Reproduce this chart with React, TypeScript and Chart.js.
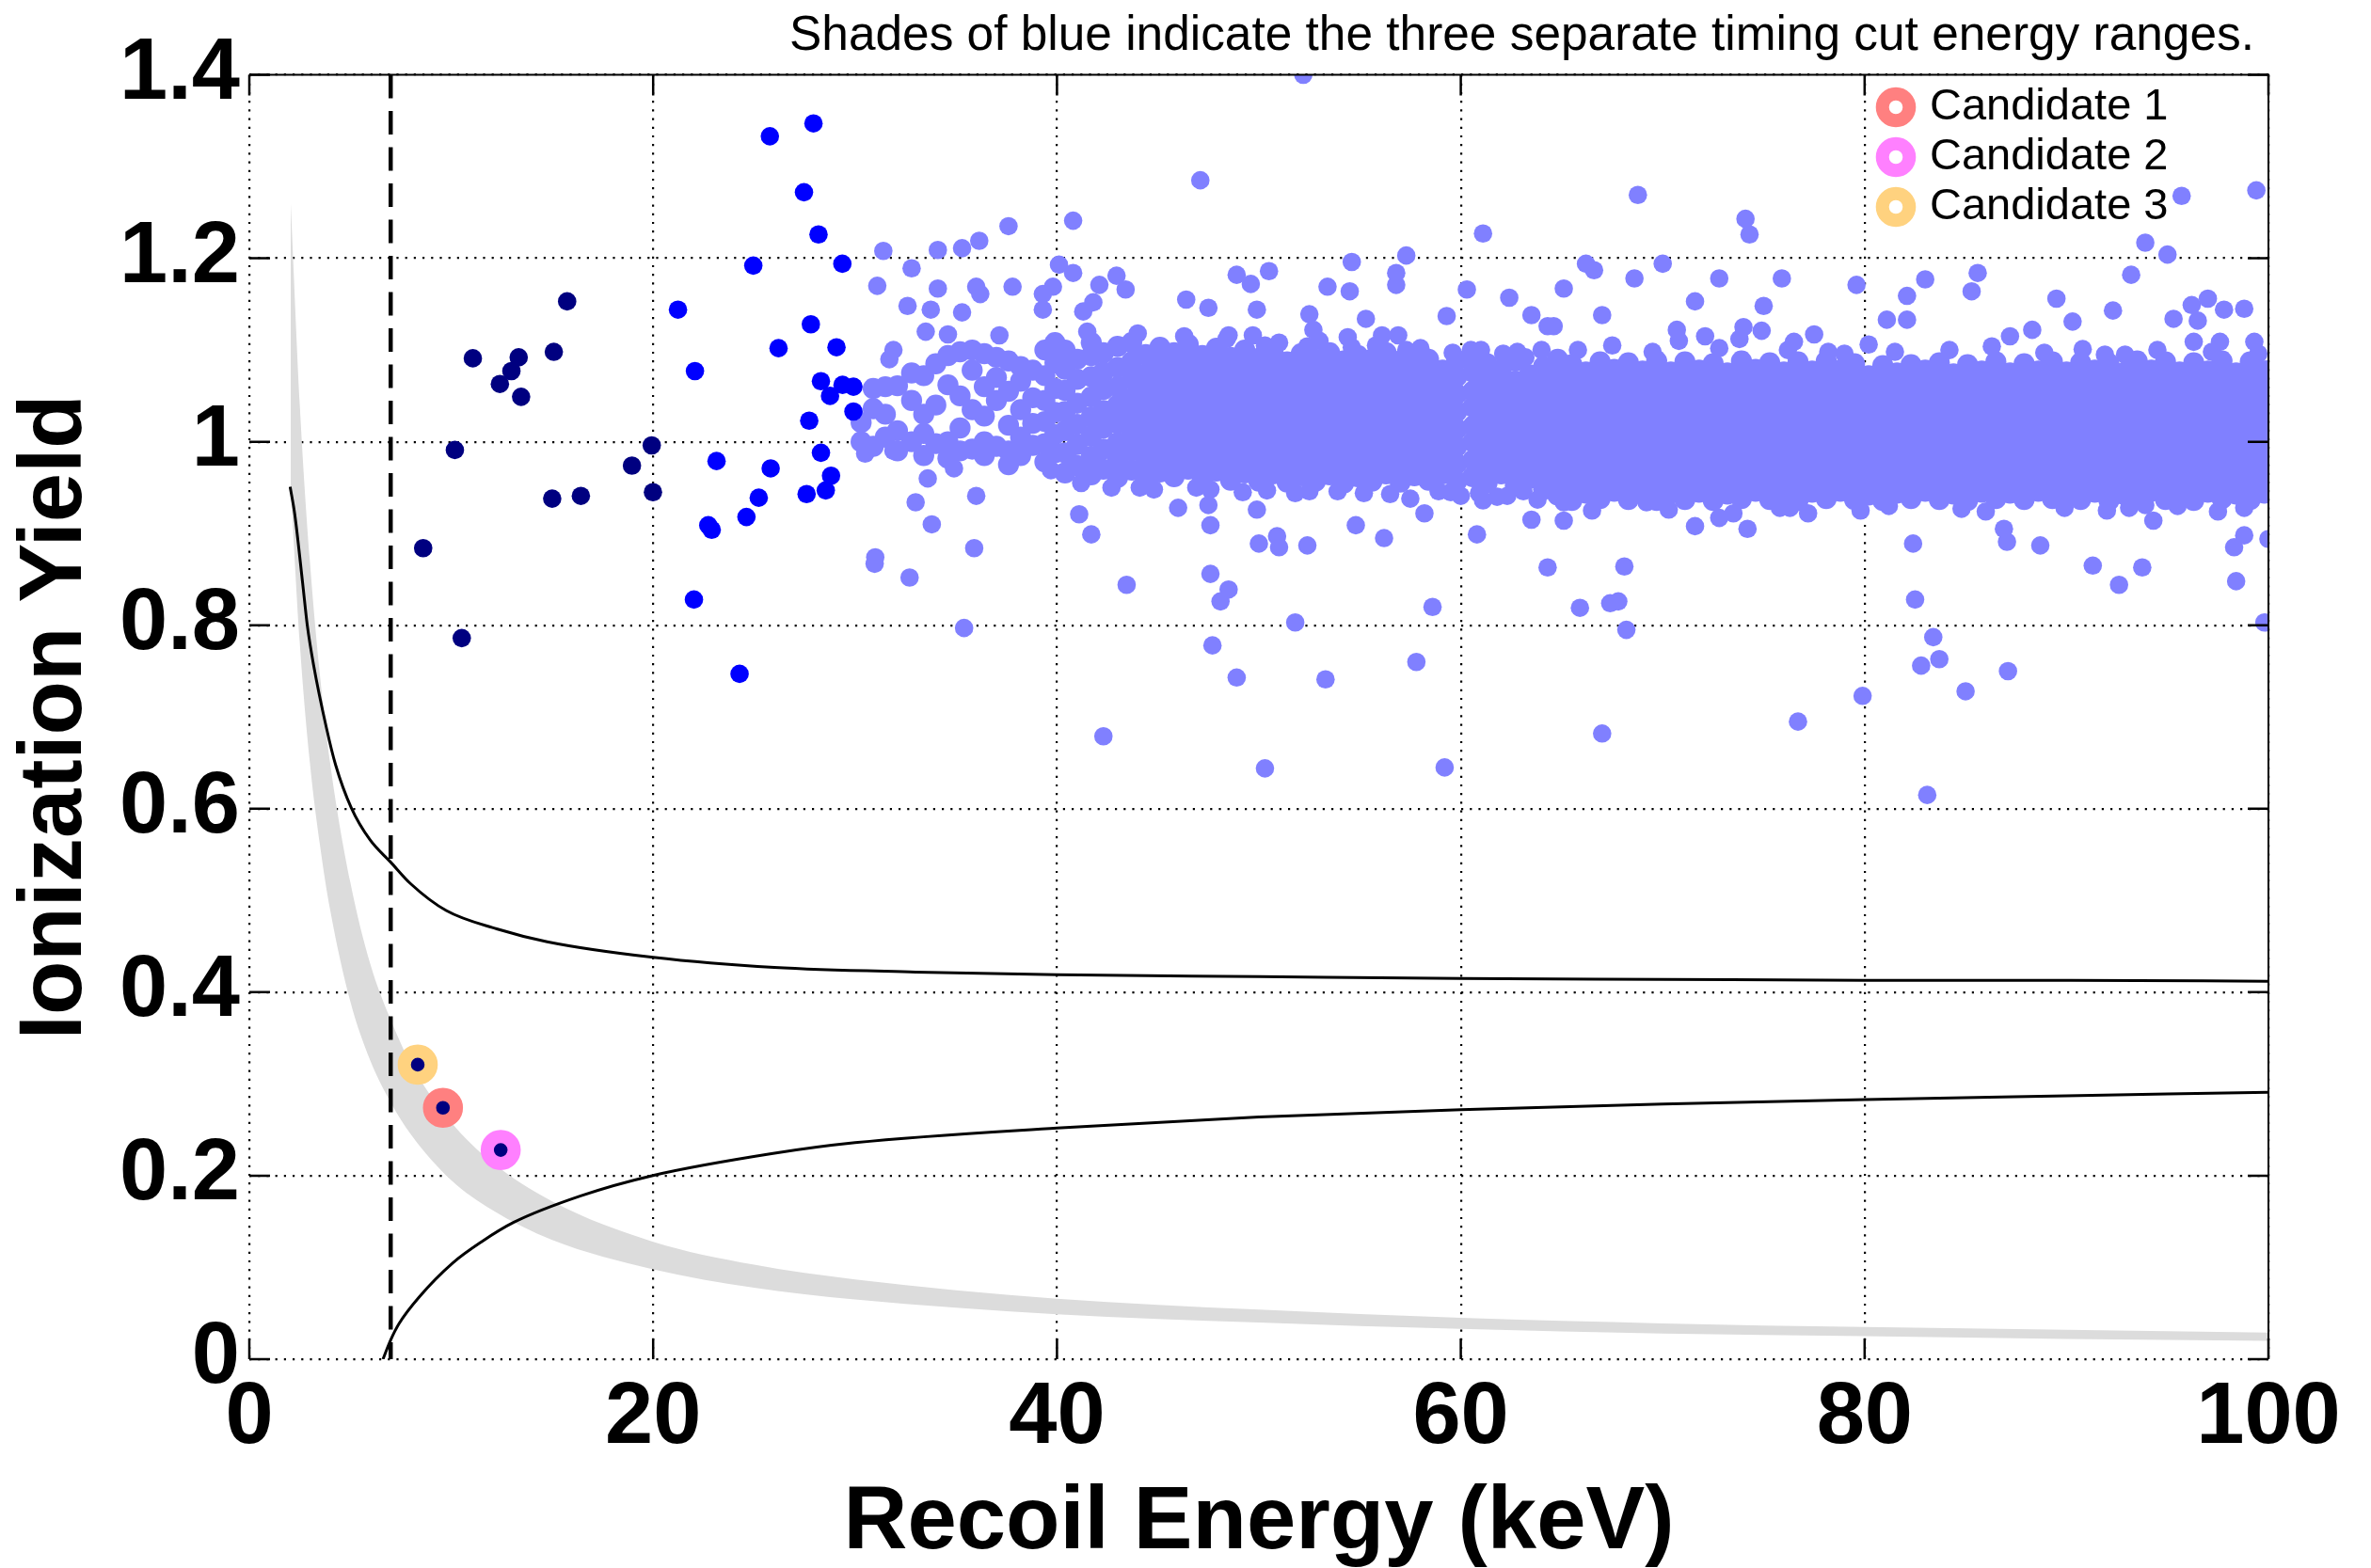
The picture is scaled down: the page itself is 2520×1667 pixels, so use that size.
import React, { useEffect, useRef } from 'react';
import { Chart, registerables } from 'chart.js';

Chart.register(...registerables);

const FONT = '"Liberation Sans", Arial, Helvetica, sans-serif';
const W = 2520;
const H = 1667;

const LIGHT = '#8080FF';
const BLUE = '#0000FF';
const NAVY = '#000080';
const GRAY = '#DCDCDC';

const NOTE = 'Shades of blue indicate the three separate timing cut energy ranges.';
const X_TITLE = 'Recoil Energy (keV)';
const Y_TITLE = 'Ionization Yield';

// Gray band (upper / lower edge)
const bandX = [2.05, 2.5, 3, 3.5, 4, 5, 6, 7, 8, 10, 12, 15, 20, 25, 30, 40, 50, 60, 70, 80, 90, 100];
const bandUpper = [1.26, 1.04, 0.87, 0.745, 0.65, 0.52, 0.43, 0.37, 0.322, 0.258, 0.215, 0.172, 0.128, 0.103, 0.087, 0.066, 0.054, 0.045, 0.039, 0.035, 0.032, 0.029];
const bandLower = [0.95, 0.78, 0.65, 0.56, 0.49, 0.39, 0.325, 0.28, 0.245, 0.195, 0.163, 0.13, 0.098, 0.078, 0.065, 0.049, 0.04, 0.033, 0.028, 0.025, 0.022, 0.02];

// Black acceptance curves
const upperCurveX = [2.02, 2.25, 2.64, 2.87, 3.18, 3.81, 4.27, 5.05, 5.98, 6.99, 8.0, 9.75, 12.25, 14.75, 20, 26, 33, 40, 50, 60, 70, 80, 90, 100];
const upperCurveY = [0.951, 0.921, 0.846, 0.8, 0.757, 0.689, 0.648, 0.601, 0.566, 0.542, 0.518, 0.489, 0.469, 0.455, 0.438, 0.427, 0.422, 0.419, 0.417, 0.415, 0.414, 0.413, 0.413, 0.412];
const lowerCurveX = [6.62, 7.0, 7.42, 8.42, 10.08, 11.5, 13.08, 16.41, 19.94, 25.86, 30, 40, 50, 60, 70, 80, 90, 100];
const lowerCurveY = [0, 0.021, 0.039, 0.068, 0.105, 0.128, 0.149, 0.178, 0.2, 0.224, 0.236, 0.252, 0.264, 0.272, 0.278, 0.283, 0.287, 0.291];

const thresholdX = 7.0;

// Navy events (lowest energy range)
const navyPts = [
  [15.74, 1.153], [11.07, 1.091], [13.34, 1.092], [12.98, 1.077], [12.41, 1.063], [13.46, 1.049],
  [15.08, 1.098], [10.18, 0.991], [19.93, 0.996], [18.95, 0.974], [19.99, 0.945], [15.0, 0.938],
  [16.42, 0.941], [8.61, 0.884], [10.52, 0.786],
  [8.34, 0.321], [9.59, 0.274], [12.45, 0.228],
];

// Blue events (middle energy range)
const bluePts = [
  [25.78, 1.333], [27.94, 1.347], [27.47, 1.272], [28.19, 1.226], [24.96, 1.192], [29.37, 1.194],
  [21.23, 1.144], [27.81, 1.128], [26.21, 1.102], [29.08, 1.103], [22.07, 1.077], [28.31, 1.066],
  [29.38, 1.062], [29.92, 1.06], [28.76, 1.05], [29.92, 1.033], [27.73, 1.023], [28.31, 0.988],
  [23.14, 0.979], [25.82, 0.971], [28.81, 0.963], [25.23, 0.939], [27.6, 0.943], [28.55, 0.947],
  [24.62, 0.918], [22.73, 0.909], [22.9, 0.904], [22.02, 0.828], [24.28, 0.747],
];

// Light events: scattered points above the main band
const lightUpper = [
  [47.1, 1.285], [40.8, 1.241], [37.6, 1.235], [36.15, 1.219], [35.3, 1.211], [34.1, 1.209], [31.4, 1.208],
  [32.8, 1.189], [31.1, 1.17], [34.1, 1.167], [36.0, 1.169], [36.2, 1.161], [37.8, 1.169], [32.6, 1.148],
  [33.75, 1.144], [35.3, 1.141], [33.5, 1.12], [34.6, 1.117], [37.15, 1.116], [31.9, 1.1], [31.7, 1.09],
  [40.1, 1.193], [40.8, 1.184], [39.3, 1.161], [39.8, 1.169], [39.3, 1.144], [41.3, 1.142], [41.8, 1.152],
  [42.1, 1.171], [42.95, 1.181], [43.4, 1.166], [46.4, 1.155], [47.5, 1.146], [48.9, 1.182], [49.6, 1.172],
  [50.5, 1.186], [49.9, 1.144], [54.6, 1.196], [57.3, 1.203], [56.8, 1.184], [56.8, 1.171], [53.4, 1.169],
  [54.5, 1.164], [55.3, 1.134], [61.1, 1.227], [60.3, 1.166], [62.4, 1.157], [63.5, 1.138], [59.3, 1.137],
  [52.5, 1.139], [52.7, 1.122], [48.5, 1.116], [49.7, 1.116], [56.1, 1.116], [56.9, 1.116], [54.4, 1.114],
  [64.3, 1.126], [52.2, 1.4],
  [68.77, 1.269], [74.1, 1.243], [74.3, 1.226], [66.2, 1.194], [66.6, 1.187], [65.1, 1.167], [68.6, 1.178],
  [70.0, 1.194], [72.8, 1.178], [75.9, 1.178], [71.6, 1.153], [67.0, 1.138], [75.0, 1.148], [79.6, 1.171],
  [81.1, 1.133], [82.1, 1.133], [82.1, 1.159], [83.0, 1.177], [85.6, 1.184], [85.3, 1.164], [89.5, 1.156],
  [90.3, 1.131], [92.3, 1.143], [93.2, 1.182], [93.9, 1.217], [95.0, 1.204], [95.7, 1.268], [99.4, 1.274],
  [95.3, 1.134], [96.2, 1.149], [97.0, 1.156], [97.8, 1.144], [98.8, 1.145], [96.3, 1.109], [97.6, 1.109],
  [99.3, 1.109], [96.5, 1.132], [70.7, 1.122], [70.8, 1.11], [72.1, 1.115], [73.8, 1.112], [74.0, 1.125],
  [74.9, 1.121], [76.5, 1.109], [77.5, 1.117], [78.2, 1.098], [80.2, 1.106], [88.3, 1.122], [87.2, 1.115],
  [91.9, 1.095], [92.9, 1.095], [100.0, 1.079], [64.6, 1.126],
  [41.5, 1.12], [44.0, 1.118], [46.3, 1.115], [48.4, 1.112], [51.0, 1.108], [53.0, 1.11], [55.8, 1.105],
  [58.0, 1.102], [60.5, 1.1], [62.8, 1.098], [64.0, 1.1], [65.8, 1.1], [67.5, 1.105], [69.5, 1.098],
  [72.8, 1.102], [76.2, 1.1], [79.0, 1.096], [81.5, 1.098], [84.2, 1.1], [86.3, 1.104], [88.9, 1.097],
  [90.8, 1.101], [94.5, 1.1], [97.2, 1.098], [99.5, 1.096],
  [59.6, 1.097], [61.0, 1.1], [62.1, 1.096], [63.2, 1.092], [57.3, 1.1], [54.6, 1.103], [52.4, 1.104], [50.3, 1.105],
];

// Light events: scattered points below the main band
const lightLower = [
  [30.5, 0.987], [31.9, 0.99], [34.9, 0.971], [33.6, 0.96], [33.0, 0.934], [36.0, 0.941], [33.8, 0.91],
  [31.0, 0.874], [30.97, 0.867], [35.9, 0.884], [32.7, 0.852], [35.4, 0.797], [39.7, 0.969], [40.7, 0.978],
  [41.7, 0.899], [41.1, 0.921], [43.45, 0.844], [42.3, 0.679], [46.0, 0.928], [47.5, 0.931], [47.6, 0.909],
  [47.6, 0.856], [48.5, 0.839], [48.1, 0.826], [47.7, 0.778], [48.9, 0.743], [50.3, 0.644], [50.0, 0.889],
  [50.9, 0.897], [51.0, 0.885], [49.9, 0.926], [52.4, 0.887], [51.8, 0.803], [53.3, 0.741], [54.8, 0.909],
  [56.2, 0.895], [57.8, 0.76], [58.6, 0.82], [59.2, 0.645], [58.2, 0.922], [60.8, 0.899], [61.1, 0.936],
  [60.0, 0.941], [63.5, 0.915], [64.3, 0.863], [57.5, 0.938],
  [65.1, 0.934], [65.1, 0.914], [69.2, 0.934], [71.6, 0.908], [72.8, 0.917], [74.2, 0.905], [76.3, 0.928],
  [77.2, 0.922], [68.1, 0.864], [65.9, 0.819], [67.4, 0.824], [67.8, 0.826], [68.2, 0.795], [67.0, 0.682],
  [76.7, 0.695], [79.9, 0.723], [82.4, 0.889], [82.5, 0.828], [83.4, 0.787], [82.8, 0.756], [83.7, 0.763],
  [85.0, 0.728], [87.1, 0.75], [83.1, 0.615], [86.9, 0.905], [87.05, 0.891], [88.7, 0.887], [91.3, 0.865],
  [92.6, 0.844], [93.75, 0.863], [93.1, 0.928], [93.9, 0.931], [94.3, 0.914], [98.4, 0.848], [98.3, 0.885],
  [98.8, 0.898], [98.8, 0.928], [98.3, 0.947], [99.8, 0.803], [100.0, 0.894], [94.7, 0.945], [89.4, 0.94],
  [79.4, 0.941],
  [41.2, 0.955], [42.7, 0.95], [44.8, 0.948], [46.9, 0.95], [49.2, 0.945], [51.8, 0.944], [53.9, 0.946],
  [56.5, 0.943], [59.5, 0.945], [61.8, 0.94], [63.8, 0.937], [66.5, 0.925], [70.3, 0.926], [73.5, 0.922],
  [75.8, 0.928], [79.8, 0.925], [81.2, 0.93], [84.8, 0.927], [86.0, 0.924], [89.9, 0.928], [92.0, 0.925],
  [95.5, 0.93], [97.5, 0.924],
  [60.9, 0.944], [62.3, 0.941], [63.1, 0.946], [58.9, 0.946], [55.2, 0.944], [52.5, 0.946], [50.4, 0.947],
  [47.6, 0.948], [44.1, 0.95],
];

// Light events: the dense main band, columns [energy, yields...]
const band30 = [
  [30.3, 1.021, 1.0], [30.9, 1.036, 1.058, 0.995], [31.5, 1.06, 1.03, 1.005], [32.1, 1.061, 1.012, 0.99],
  [32.8, 1.045, 1.0, 1.075], [33.4, 1.072, 1.009, 0.985, 1.03], [34.0, 1.085, 1.04, 0.998],
  [34.6, 1.094, 1.062, 1.0, 0.982], [35.2, 1.098, 1.05, 1.015, 0.99], [35.8, 1.1, 1.078, 1.035, 0.992],
  [36.4, 1.096, 1.06, 1.028, 1.0, 0.985], [37.0, 1.092, 1.07, 1.045, 0.995], [37.6, 1.088, 1.055, 1.018, 0.99, 0.975],
  [38.2, 1.082, 1.066, 1.035, 1.005, 0.985], [38.8, 1.078, 1.048, 1.02, 0.996],
  [39.4, 1.1, 1.072, 1.045, 1.022, 0.998, 0.978], [39.9, 1.108, 1.086, 1.058, 1.032, 1.008, 0.988],
];
const band40 = [
  [40.4, 0.966, 0.988, 1.012, 1.033, 1.056, 1.079, 1.1],
  [41.0, 0.974, 0.997, 1.019, 1.042, 1.068, 1.09],
  [41.7, 0.964, 0.984, 1.006, 1.027, 1.049, 1.071, 1.094, 1.108],
  [42.3, 0.97, 0.992, 1.015, 1.034, 1.057, 1.076, 1.097],
  [43.0, 0.961, 0.98, 0.999, 1.02, 1.04, 1.06, 1.081, 1.104],
  [43.7, 0.969, 0.99, 1.009, 1.027, 1.047, 1.068, 1.087, 1.108],
  [44.4, 0.96, 0.978, 0.998, 1.016, 1.036, 1.055, 1.074, 1.095],
  [45.1, 0.967, 0.987, 1.005, 1.025, 1.044, 1.064, 1.083, 1.103],
  [45.8, 0.962, 0.98, 1.0, 1.018, 1.038, 1.057, 1.077, 1.097],
  [46.5, 0.97, 0.99, 1.01, 1.029, 1.047, 1.067, 1.087, 1.106],
  [47.2, 0.961, 0.979, 0.998, 1.017, 1.037, 1.056, 1.075, 1.094],
  [47.9, 0.968, 0.987, 1.006, 1.025, 1.045, 1.064, 1.083, 1.102],
  [48.6, 0.958, 0.977, 0.996, 1.015, 1.034, 1.053, 1.072, 1.092],
  [49.3, 0.966, 0.985, 1.004, 1.023, 1.043, 1.062, 1.081, 1.1],
];
const band50 = [
  [50.0, 0.957, 0.976, 0.995, 1.014, 1.033, 1.052, 1.071, 1.091],
  [50.7, 0.965, 0.984, 1.003, 1.022, 1.041, 1.06, 1.079, 1.098],
  [51.4, 0.956, 0.975, 0.993, 1.012, 1.031, 1.05, 1.068, 1.087],
  [52.1, 0.963, 0.982, 1.001, 1.02, 1.039, 1.058, 1.077, 1.096],
  [52.8, 0.957, 0.976, 0.995, 1.014, 1.034, 1.052, 1.071, 1.09],
  [53.5, 0.964, 0.983, 1.002, 1.021, 1.04, 1.059, 1.079, 1.097],
  [54.2, 0.955, 0.974, 0.993, 1.012, 1.031, 1.05, 1.069, 1.088],
  [54.9, 0.962, 0.981, 1.0, 1.019, 1.038, 1.057, 1.076, 1.094],
  [55.6, 0.957, 0.976, 0.995, 1.014, 1.033, 1.052, 1.071, 1.09],
  [56.3, 0.965, 0.984, 1.003, 1.022, 1.041, 1.06, 1.079, 1.097],
  [57.0, 0.956, 0.975, 0.994, 1.013, 1.032, 1.051, 1.07, 1.088],
  [57.7, 0.963, 0.982, 1.001, 1.02, 1.039, 1.058, 1.077, 1.094],
  [58.4, 0.958, 0.977, 0.996, 1.015, 1.034, 1.053, 1.072, 1.09],
  [59.1, 0.965, 0.984, 1.003, 1.022, 1.041, 1.06, 1.078],
  [59.8, 0.957, 0.976, 0.995, 1.014, 1.033, 1.052, 1.071, 1.089],
];
const band60 = [
  [60.6, 0.962, 0.98, 1.0, 1.017, 1.038, 1.055, 1.076, 1.09],
  [61.3, 0.955, 0.974, 0.993, 1.011, 1.03, 1.05, 1.068, 1.085],
  [62.0, 0.965, 0.983, 1.004, 1.022, 1.041, 1.06, 1.079],
  [62.7, 0.952, 0.971, 0.99, 1.008, 1.027, 1.047, 1.066, 1.088],
  [63.4, 0.96, 0.979, 0.998, 1.016, 1.036, 1.055, 1.073],
  [64.1, 0.948, 0.967, 0.986, 1.005, 1.024, 1.043, 1.062, 1.082],
  [64.8, 0.942, 0.958, 0.978, 0.996, 1.015, 1.034, 1.053, 1.072, 1.09],
  [65.5, 0.936, 0.952, 0.97, 0.99, 1.008, 1.027, 1.046, 1.065, 1.084],
  [66.2, 0.944, 0.962, 0.981, 1.0, 1.019, 1.037, 1.057, 1.076],
  [66.9, 0.938, 0.956, 0.975, 0.994, 1.012, 1.031, 1.05, 1.069, 1.087],
  [67.6, 0.946, 0.965, 0.984, 1.003, 1.022, 1.04, 1.06, 1.079],
  [68.3, 0.937, 0.955, 0.973, 0.992, 1.01, 1.029, 1.048, 1.067, 1.086],
  [69.0, 0.945, 0.964, 0.983, 1.002, 1.021, 1.04, 1.058, 1.077],
  [69.7, 0.936, 0.954, 0.974, 0.993, 1.011, 1.03, 1.049, 1.068, 1.088],
];
const band70 = [
  [70.4, 0.944, 0.963, 0.982, 1.0, 1.02, 1.038, 1.057, 1.076],
  [71.1, 0.937, 0.955, 0.974, 0.993, 1.012, 1.03, 1.05, 1.069, 1.087],
  [71.8, 0.945, 0.964, 0.983, 1.002, 1.02, 1.04, 1.059, 1.078],
  [72.5, 0.936, 0.953, 0.972, 0.991, 1.01, 1.029, 1.048, 1.066, 1.085],
  [73.2, 0.943, 0.962, 0.98, 1.0, 1.018, 1.037, 1.056, 1.075],
  [73.9, 0.938, 0.956, 0.975, 0.994, 1.013, 1.032, 1.051, 1.07, 1.088],
  [74.6, 0.946, 0.965, 0.984, 1.003, 1.022, 1.041, 1.06, 1.079],
  [75.3, 0.937, 0.955, 0.974, 0.993, 1.012, 1.031, 1.05, 1.068, 1.086],
  [76.0, 0.944, 0.962, 0.981, 1.0, 1.019, 1.038, 1.057, 1.076],
  [76.7, 0.936, 0.954, 0.973, 0.992, 1.011, 1.03, 1.049, 1.068, 1.087],
  [77.4, 0.945, 0.963, 0.982, 1.001, 1.02, 1.039, 1.058, 1.077],
  [78.1, 0.938, 0.956, 0.975, 0.994, 1.013, 1.032, 1.05, 1.069, 1.088],
  [78.8, 0.946, 0.964, 0.983, 1.002, 1.021, 1.04, 1.059, 1.078],
  [79.5, 0.937, 0.955, 0.974, 0.993, 1.012, 1.031, 1.05, 1.069, 1.085],
];
const band80 = [
  [80.2, 0.942, 0.96, 0.98, 0.998, 1.016, 1.036, 1.054, 1.072],
  [80.9, 0.936, 0.953, 0.971, 0.99, 1.009, 1.027, 1.046, 1.064, 1.083],
  [81.6, 0.944, 0.963, 0.982, 1.001, 1.018, 1.038, 1.057, 1.075],
  [82.3, 0.938, 0.955, 0.973, 0.993, 1.011, 1.03, 1.048, 1.067, 1.084],
  [83.0, 0.946, 0.965, 0.984, 1.003, 1.021, 1.04, 1.06, 1.078],
  [83.7, 0.937, 0.956, 0.975, 0.994, 1.012, 1.031, 1.05, 1.069, 1.086],
  [84.4, 0.943, 0.961, 0.98, 0.999, 1.018, 1.037, 1.055, 1.074],
  [85.1, 0.936, 0.954, 0.972, 0.991, 1.01, 1.029, 1.047, 1.066, 1.084],
  [85.8, 0.945, 0.964, 0.983, 1.002, 1.02, 1.039, 1.058, 1.077],
  [86.5, 0.938, 0.957, 0.976, 0.995, 1.014, 1.033, 1.052, 1.07, 1.087],
  [87.2, 0.944, 0.962, 0.981, 1.0, 1.019, 1.038, 1.056, 1.075],
  [87.9, 0.937, 0.955, 0.974, 0.993, 1.012, 1.03, 1.049, 1.068, 1.085],
  [88.6, 0.946, 0.964, 0.982, 1.001, 1.02, 1.04, 1.058, 1.077],
  [89.3, 0.938, 0.956, 0.975, 0.994, 1.013, 1.032, 1.05, 1.069, 1.087],
];
const band90 = [
  [90.0, 0.944, 0.963, 0.982, 1.0, 1.019, 1.038, 1.057, 1.076],
  [90.7, 0.937, 0.955, 0.974, 0.993, 1.012, 1.031, 1.05, 1.068, 1.086],
  [91.4, 0.945, 0.964, 0.983, 1.002, 1.021, 1.04, 1.059, 1.078],
  [92.1, 0.936, 0.954, 0.973, 0.992, 1.011, 1.03, 1.049, 1.067, 1.085],
  [92.8, 0.943, 0.962, 0.981, 1.0, 1.018, 1.037, 1.056, 1.075],
  [93.5, 0.938, 0.956, 0.975, 0.994, 1.013, 1.032, 1.051, 1.07, 1.088],
  [94.2, 0.946, 0.965, 0.984, 1.003, 1.021, 1.04, 1.059, 1.078],
  [94.9, 0.937, 0.955, 0.974, 0.993, 1.012, 1.031, 1.05, 1.069, 1.087],
  [95.6, 0.944, 0.963, 0.981, 1.0, 1.019, 1.038, 1.057, 1.076],
  [96.3, 0.936, 0.954, 0.973, 0.992, 1.011, 1.03, 1.049, 1.068, 1.086],
  [97.0, 0.945, 0.963, 0.982, 1.001, 1.02, 1.039, 1.058, 1.077],
  [97.7, 0.938, 0.956, 0.975, 0.994, 1.013, 1.032, 1.051, 1.07, 1.088],
  [98.4, 0.943, 0.962, 0.981, 1.0, 1.019, 1.038, 1.056, 1.075],
  [99.1, 0.937, 0.955, 0.974, 0.993, 1.012, 1.031, 1.05, 1.069, 1.087],
  [99.8, 0.944, 0.963, 0.982, 1.001, 1.02, 1.039, 1.058, 1.077],
];

// WIMP candidates
const candidateNames = ['Candidate 1', 'Candidate 2', 'Candidate 3'];
const candidateColors = ['#FF8080', '#FF80FF', '#FFD27F'];
const candidateX = [9.59, 12.45, 8.34];
const candidateY = [0.274, 0.228, 0.321];

const pairs = (list: number[][]) => list.map(([x, y]) => ({ x, y }));
const cols = (list: number[][]) => list.flatMap(([x, ...ys]) => ys.map((y) => ({ x, y })));
const zip = (xs: number[], ys: number[]) => xs.map((x, i) => ({ x, y: ys[i] }));

const framePlugin = {
  id: 'frame',
  afterDatasetsDraw(chart: any) {
    const { ctx, chartArea, scales } = chart;
    const { left, right, top, bottom } = chartArea;
    ctx.save();
    ctx.setLineDash([]);
    ctx.strokeStyle = '#000';
    ctx.lineWidth = 2.5;
    ctx.beginPath();
    for (const t of scales.x.ticks) {
      const px = scales.x.getPixelForValue(t.value);
      ctx.moveTo(px, bottom);
      ctx.lineTo(px, bottom - 22);
      ctx.moveTo(px, top);
      ctx.lineTo(px, top + 22);
    }
    for (const t of scales.y.ticks) {
      const py = scales.y.getPixelForValue(t.value);
      ctx.moveTo(left, py);
      ctx.lineTo(left + 22, py);
      ctx.moveTo(right, py);
      ctx.lineTo(right - 22, py);
    }
    ctx.stroke();
    ctx.lineWidth = 2;
    ctx.beginPath();
    ctx.moveTo(left, top);
    ctx.lineTo(right, top);
    ctx.lineTo(right, bottom);
    ctx.stroke();
    ctx.restore();
  },
};

const textPlugin = {
  id: 'texts',
  beforeDraw(chart: any) {
    const { ctx } = chart;
    ctx.save();
    ctx.fillStyle = '#fff';
    ctx.fillRect(0, 0, chart.width, chart.height);
    ctx.restore();
  },
  afterDraw(chart: any) {
    const { ctx } = chart;
    ctx.save();
    ctx.fillStyle = '#000';
    ctx.font = `51.4px ${FONT}`;
    ctx.textAlign = 'right';
    ctx.textBaseline = 'alphabetic';
    ctx.fillText(NOTE, 2396, 53);
    // legend
    ctx.font = `47px ${FONT}`;
    ctx.textAlign = 'left';
    ctx.textBaseline = 'middle';
    candidateNames.forEach((name, i) => {
      const cy = 114 + i * 53;
      ctx.beginPath();
      ctx.arc(2015, cy, 14.3, 0, Math.PI * 2);
      ctx.lineWidth = 14;
      ctx.strokeStyle = candidateColors[i];
      ctx.stroke();
      ctx.fillStyle = '#000';
      ctx.fillText(name, 2051, cy);
    });
    ctx.restore();
  },
};

export default function App() {
  const ref = useRef<HTMLCanvasElement>(null);
  useEffect(() => {
    document.body.style.margin = '0';
    const scattered = [...pairs(lightUpper), ...pairs(lightLower)];
    const dense = [
      ...cols(band30), ...cols(band40), ...cols(band50), ...cols(band60),
      ...cols(band70), ...cols(band80), ...cols(band90),
    ];
    const pointDs = (data: any[], color: string, order: number, radius = 9.8) => ({
      data, order, showLine: false, pointRadius: radius, pointHoverRadius: radius,
      pointBackgroundColor: color, pointBorderWidth: 0, pointStyle: 'circle',
      borderColor: color, backgroundColor: color,
    });
    const lineDs = (data: any[], order: number, extra: any = {}) => ({
      data, order, showLine: true, pointRadius: 0, pointHoverRadius: 0,
      borderColor: '#000', borderWidth: 3, fill: false, cubicInterpolationMode: 'monotone', ...extra,
    });
    const datasets: any[] = [
      lineDs(zip(bandX, bandLower), 20, { borderColor: 'rgba(0,0,0,0)', borderWidth: 1 }),
      lineDs(zip(bandX, bandUpper), 20, { borderColor: 'rgba(0,0,0,0)', borderWidth: 1, fill: '-1', backgroundColor: GRAY }),
      pointDs(dense, LIGHT, 16, 11.2),
      pointDs(scattered, LIGHT, 15),
      pointDs(pairs(bluePts), BLUE, 14),
      pointDs(pairs(navyPts), NAVY, 13),
      lineDs(zip(upperCurveX, upperCurveY), 12),
      lineDs(zip(lowerCurveX, lowerCurveY), 12),
      lineDs([{ x: thresholdX, y: 1.4 }, { x: thresholdX, y: 0 }], 11, { borderWidth: 4.5, borderDash: [25, 13.5], cubicInterpolationMode: 'default', tension: 0 }),
      ...candidateNames.map((_, i) => ({
        data: [{ x: candidateX[i], y: candidateY[i] }], order: 5 - i, showLine: false,
        pointRadius: 14.3, pointHoverRadius: 14.3, pointBorderWidth: 14, pointStyle: 'circle',
        pointBorderColor: candidateColors[i], pointBackgroundColor: 'rgba(0,0,0,0)',
        borderColor: candidateColors[i], backgroundColor: 'rgba(0,0,0,0)',
      })),
    ];
    const tickFont = { family: FONT, size: 92, weight: 'bold' as const, lineHeight: 1 };
    const titleFont = { family: FONT, size: 94, weight: 'bold' as const, lineHeight: 0.9 };
    const chart = new Chart(ref.current as HTMLCanvasElement, {
      type: 'scatter',
      data: { datasets },
      plugins: [textPlugin, framePlugin],
      options: {
        responsive: false,
        animation: false,
        devicePixelRatio: 1,
        events: [],
        layout: { padding: { top: 79.5, right: 109, bottom: 0, left: 0 } },
        plugins: { legend: { display: false }, tooltip: { enabled: false } },
        scales: {
          x: {
            type: 'linear', min: 0, max: 100,
            ticks: { stepSize: 20, autoSkip: false, maxRotation: 0, color: '#000', font: tickFont, padding: 18 },
            grid: { color: '#000', lineWidth: 2.2, drawTicks: false },
            border: { display: false, dash: [2.2, 7] },
            title: { display: true, text: X_TITLE, color: '#000', font: titleFont, padding: { top: 0, bottom: 4.7 } },
            afterFit: (s: any) => { s.height = 222; s.paddingLeft = 0; s.paddingRight = 0; s.paddingTop = 0; s.paddingBottom = 0; },
          },
          y: {
            type: 'linear', min: 0, max: 1.4,
            ticks: { stepSize: 0.2, autoSkip: false, color: '#000', font: tickFont, padding: 10,
              callback: (v: any) => String(Math.round(Number(v) * 10) / 10) },
            grid: { color: '#000', lineWidth: 2.2, drawTicks: false },
            border: { display: false, dash: [2.2, 7] },
            title: { display: true, text: Y_TITLE, color: '#000', font: titleFont, padding: { top: 17.7, bottom: 0 } },
            afterFit: (s: any) => { s.width = 265; s.paddingLeft = 0; s.paddingRight = 0; s.paddingTop = 0; s.paddingBottom = 0; },
          },
        },
      } as any,
    });
    return () => chart.destroy();
  }, []);
  return (
    <div style={{ position: 'absolute', left: 0, top: 0, width: W, height: H, background: '#fff' }}>
      <canvas ref={ref} width={W} height={H} style={{ width: W, height: H, display: 'block' }} />
    </div>
  );
}
